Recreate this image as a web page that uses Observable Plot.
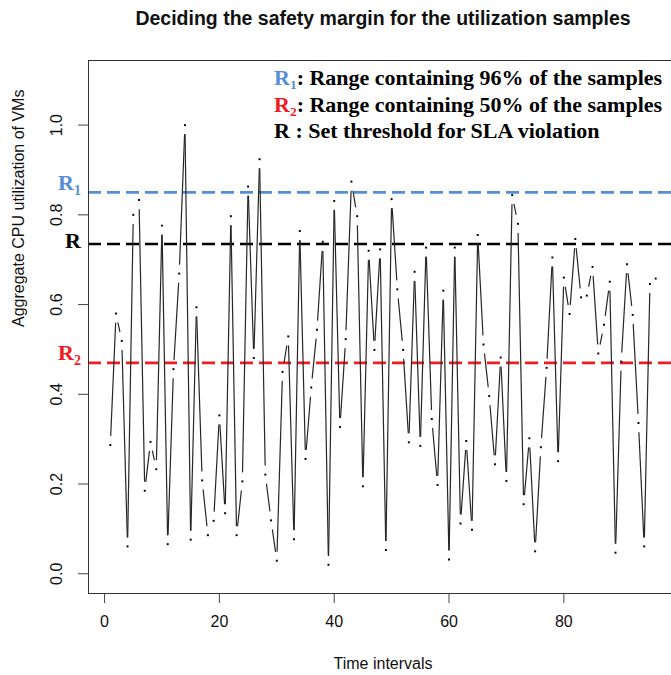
<!DOCTYPE html>
<html>
<head>
<meta charset="utf-8">
<style>
html, body { margin: 0; padding: 0; overflow: hidden; background: #fff; }
</style>
<script src="https://cdn.jsdelivr.net/npm/d3@7"></script>
<script src="https://cdn.jsdelivr.net/npm/@observablehq/plot@0.6"></script>
</head>
<body>
<div id="chart"></div>
<script>
// ---- data ----
const timeIntervals = [1,2,3,4,5,6,7,8,9,10,11,12,13,14,15,16,17,18,19,20,21,22,23,24,25,26,27,28,29,30,31,32,33,34,35,36,37,38,39,40,41,42,43,44,45,46,47,48,49,50,51,52,53,54,55,56,57,58,59,60,61,62,63,64,65,66,67,68,69,70,71,72,73,74,75,76,77,78,79,80,81,82,83,84,85,86,87,88,89,90,91,92,93,94,95,96];
const cpuUtilization = [
  0.287, 0.580, 0.519, 0.061, 0.800, 0.833, 0.185, 0.294, 0.233, 0.776,
  0.066, 0.456, 0.669, 1.000, 0.076, 0.594, 0.208, 0.086, 0.118, 0.353,
  0.135, 0.797, 0.086, 0.206, 0.863, 0.481, 0.924, 0.221, 0.119, 0.029,
  0.450, 0.529, 0.077, 0.764, 0.256, 0.415, 0.544, 0.740, 0.020, 0.831,
  0.327, 0.523, 0.874, 0.797, 0.195, 0.720, 0.499, 0.723, 0.053, 0.835,
  0.634, 0.499, 0.293, 0.673, 0.285, 0.727, 0.345, 0.198, 0.631, 0.032,
  0.727, 0.112, 0.296, 0.098, 0.755, 0.511, 0.396, 0.244, 0.482, 0.207,
  0.844, 0.780, 0.155, 0.302, 0.050, 0.282, 0.459, 0.705, 0.251, 0.660,
  0.579, 0.746, 0.616, 0.620, 0.684, 0.491, 0.555, 0.651, 0.047, 0.473,
  0.690, 0.577, 0.336, 0.061, 0.646, 0.658
];
const thresholdNames = ["R1", "R", "R2"];
const thresholdValues = [0.85, 0.735, 0.47];
const xTicks = [0, 20, 40, 60, 80];
const yTicks = [0.0, 0.2, 0.4, 0.6, 0.8, 1.0];
const titleText = "Deciding the safety margin for the utilization samples";
const xLabel = "Time intervals";
const yLabel = "Aggregate CPU utilization of VMs";

// ---- derived tables ----
const BLUE = "#558ED5", RED = "#EE1D23", BLACK = "#000";
const thresholdColors = [BLUE, BLACK, RED];
const samples = timeIntervals.map((t, i) => ({t, u: cpuUtilization[i]}));
const segments = d3.pairs(samples).map(([a, b]) => ({x1: a.t, y1: a.u, x2: b.t, y2: b.u}));
const thresholds = thresholdNames.map((n, i) => ({name: n, value: thresholdValues[i], color: thresholdColors[i]}));

const chart = Plot.plot({
  width: 671,
  height: 675,
  marginLeft: 88,
  marginRight: -6,
  marginTop: 60,
  marginBottom: 82,
  x: {domain: [-2.8, 99.8]},
  y: {domain: [-0.044, 1.144]},
  style: {fontFamily: "'Liberation Sans', Arial, sans-serif", fontSize: "16px", background: "#fff", color: "#111"},
  marks: [
    Plot.ruleY(thresholds, {y: "value", stroke: "color", strokeWidth: 2.6, strokeDasharray: "13,6"}),
    Plot.arrow(segments, {x1: "x1", y1: "y1", x2: "x2", y2: "y2", headLength: 0, insetStart: 9.5, insetEnd: 9.5, stroke: "#262626", strokeWidth: 1.2}),
    Plot.dot(samples, {x: "t", y: "u", symbol: "square", r: 1.1, fill: "#000", stroke: null}),
    Plot.frame({stroke: "#333", strokeWidth: 1}),
    Plot.axisX({ticks: xTicks, tickSize: 10, tickPadding: 12, label: null, stroke: "#444", fontSize: 16}),
    Plot.axisY({ticks: yTicks, tickSize: 10, tickPadding: 17, tickRotate: -90, tickFormat: d => d.toFixed(1), label: null, stroke: "#444", fontSize: 16}),
    Plot.text([titleText], {frameAnchor: "top", dy: -42, fontWeight: "bold", fontSize: 19.5, lineAnchor: "middle"}),
    Plot.text([xLabel], {frameAnchor: "bottom", dy: 70, fontSize: 16, lineAnchor: "middle"}),
    Plot.text([yLabel], {frameAnchor: "left", dx: -70, rotate: -90, fontSize: 16, lineAnchor: "middle"})
  ]
});

document.getElementById("chart").appendChild(chart);

// ---- annotations (legend + line labels) ----
const svg = d3.select(chart);
const yScale = chart.scale("y");
const serif = "'Liberation Serif', 'Times New Roman', serif";

const lab = svg.append("g").attr("font-family", serif).attr("font-weight", "bold").attr("font-size", 22).attr("text-anchor", "end");
thresholds.forEach(d => {
  const yy = yScale.apply(d.value);
  const hasSub = d.name.length > 1;
  const t = lab.append("text").attr("x", 81).attr("y", hasSub ? yy - 2 : yy + 5).attr("fill", d.color);
  t.append("tspan").text("R");
  if (hasSub) t.append("tspan").attr("font-size", 14).attr("dy", 5).text(d.name.slice(1));
});

const legendRows = [
  {sub: "1", color: BLUE, rest: ": Range containing 96% of the samples"},
  {sub: "2", color: RED, rest: ": Range containing 50% of the samples"},
  {sub: "", color: BLACK, rest: " : Set threshold for SLA violation"}
];
const leg = svg.append("g").attr("font-family", serif).attr("font-weight", "bold").attr("font-size", 22).attr("fill", "#000").attr("text-anchor", "start");
legendRows.forEach((r, i) => {
  const t = leg.append("text").attr("x", 274).attr("y", 85 + i * 26.5).attr("xml:space", "preserve").style("white-space", "pre");
  t.append("tspan").attr("fill", r.color).text("R");
  if (r.sub) {
    t.append("tspan").attr("fill", r.color).attr("font-size", 13.5).attr("dy", 4).text(r.sub);
    t.append("tspan").attr("dy", -4).text(r.rest);
  } else {
    t.append("tspan").text(r.rest);
  }
});
</script>
</body>
</html>
